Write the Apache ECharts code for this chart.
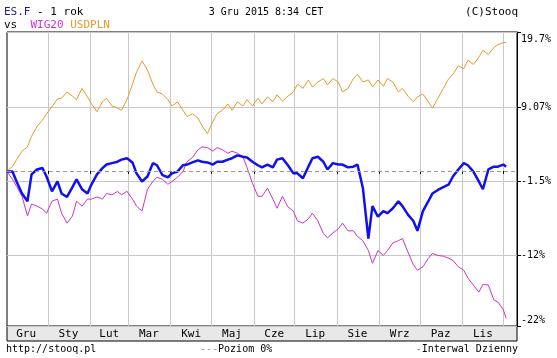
<!DOCTYPE html>
<html>
<head>
<meta charset="utf-8">
<script src="https://cdn.jsdelivr.net/npm/echarts@6/dist/echarts.min.js"></script>
<style>html,body{margin:0;padding:0;background:#fff;}#c{width:557px;height:358px;}</style>
</head>
<body>
<div id="c"></div>
<script>
const dates = ['2014-12-02','2014-12-06','2014-12-09','2014-12-13','2014-12-17','2014-12-20','2014-12-24','2014-12-28','2014-12-31',
'2015-01-04','2015-01-08','2015-01-11','2015-01-15','2015-01-19','2015-01-22','2015-01-26','2015-01-30',
'2015-02-02','2015-02-06','2015-02-10','2015-02-13','2015-02-17','2015-02-21','2015-02-24','2015-02-28',
'2015-03-04','2015-03-07','2015-03-11','2015-03-15','2015-03-19','2015-03-22','2015-03-26','2015-03-30',
'2015-04-02','2015-04-06','2015-04-10','2015-04-13','2015-04-17','2015-04-21','2015-04-24','2015-04-28',
'2015-05-02','2015-05-05','2015-05-09','2015-05-13','2015-05-16','2015-05-20','2015-05-24','2015-05-27','2015-05-31',
'2015-06-04','2015-06-07','2015-06-11','2015-06-15','2015-06-18','2015-06-22','2015-06-26','2015-06-30',
'2015-07-03','2015-07-07','2015-07-11','2015-07-14','2015-07-18','2015-07-22','2015-07-25','2015-07-29',
'2015-08-02','2015-08-05','2015-08-09','2015-08-13','2015-08-16','2015-08-20','2015-08-24','2015-08-27','2015-08-31',
'2015-09-04','2015-09-07','2015-09-11','2015-09-15','2015-09-18','2015-09-22','2015-09-26','2015-09-29',
'2015-10-03','2015-10-07','2015-10-10','2015-10-14','2015-10-18','2015-10-22','2015-10-25','2015-10-29',
'2015-11-02','2015-11-05','2015-11-09','2015-11-13','2015-11-16','2015-11-20','2015-11-24','2015-11-27',
'2015-12-01','2015-12-03'];

const usdpln = [0,0.6,1.6,2.8,3.4,4.9,6.3,7.2,8.1,
9.1,10.2,10.3,11.2,10.6,10.1,11.7,10.5,
9.5,8.4,9.8,10.3,9.2,8.9,8.6,10.1,
12.3,14.0,15.6,14.3,12.3,11.2,10.9,10.1,
9.2,9.8,8.6,7.7,8.1,7.5,6.4,5.3,
7.0,8.1,8.6,9.5,8.6,9.8,9.2,10.1,9.2,
10.3,9.5,10.5,9.8,10.8,9.9,10.6,11.2,
12.3,11.7,12.9,11.9,12.6,13.1,12.2,13.1,
12.6,11.2,11.7,13.1,13.7,12.6,12.9,11.9,12.9,
12.0,13.1,12.6,11.2,11.7,10.6,9.8,10.5,
10.9,9.8,8.9,10.3,11.7,13.1,13.7,14.9,
14.5,15.7,15.1,16.1,17.1,16.5,17.5,17.9,
18.2,18.2];

const wig20 = [-0.1,-1.2,-2.2,-3.6,-6.4,-4.7,-5.0,-5.4,-6.0,
-4.3,-4.0,-6.0,-7.4,-6.4,-4.3,-5.0,-4.0,
-4.0,-3.7,-4.0,-3.2,-3.4,-2.9,-3.4,-2.9,
-4.0,-5.0,-5.7,-2.6,-1.5,-0.9,-1.2,-1.9,
-1.5,-0.9,-0.1,1.3,1.9,3.0,3.4,3.3,
2.8,3.3,3.0,2.5,2.8,2.5,2.0,0.5,-1.75,
-3.6,-3.6,-2.45,-4.0,-5.3,-3.6,-5.1,-5.7,
-7.1,-7.4,-6.8,-6.0,-7.1,-8.9,-9.5,-8.8,
-8.2,-7.4,-8.5,-8.5,-9.3,-9.9,-11.3,-13.1,-11.3,
-12.0,-11.3,-10.2,-9.9,-9.6,-11.5,-13.3,-14.1,
-13.6,-12.4,-11.7,-12.0,-12.1,-12.4,-12.7,-13.6,
-14.1,-15.2,-16.2,-17.2,-16.1,-16.2,-18.3,-18.6,
-19.7,-20.9];

const esf = [-0.1,-0.1,-1.5,-3.2,-4.3,-0.5,0.2,0.4,-0.8,
-2.9,-1.5,-3.2,-3.7,-2.3,-1.2,-2.6,-3.2,
-1.9,-0.5,0.4,0.9,1.1,1.3,1.6,1.8,
1.2,-0.35,-1.5,-0.8,1.1,0.8,-0.6,-0.9,
-0.35,-0.1,0.8,0.9,1.2,1.5,1.3,1.2,
0.9,1.3,1.3,1.6,1.8,2.2,2.0,1.9,1.3,
0.8,0.5,0.9,0.5,1.6,1.8,0.8,-0.35,
-0.35,-1.05,0.6,1.8,2.0,1.3,0.2,1.1,
0.9,0.9,0.5,0.6,0.9,-2.45,-9.6,-5.0,-6.5,
-5.7,-6.0,-5.3,-4.3,-5.0,-6.2,-7.1,-8.5,
-5.7,-4.3,-3.2,-2.7,-2.3,-1.9,-0.8,0.2,
1.1,0.8,-0.1,-1.5,-2.6,0.2,0.6,0.6,
0.9,0.6];

const monthStarts = ['2015-01-01','2015-02-01','2015-03-01','2015-04-01','2015-05-01','2015-06-01','2015-07-01','2015-08-01','2015-09-01','2015-10-01','2015-11-01','2015-12-01'];
const monthLabelDates = ['2014-12-16','2015-01-16','2015-02-15','2015-03-16','2015-04-16','2015-05-16','2015-06-16','2015-07-16','2015-08-16','2015-09-16','2015-10-16','2015-11-16'];
const monthNames = ['Gru','Sty','Lut','Mar','Kwi','Maj','Cze','Lip','Sie','Wrz','Paz','Lis'];
const yTickValues = [19.7, 9.07, -1.5, -12, -22];
const yTickLabels = ['19.7%','9.07%','-1.5%','-12%','-22%'];

function ts(s){ const p = s.split('-').map(Number); return Date.UTC(p[0], p[1]-1, p[2]); }
const monthStartTs = monthStarts.map(ts);
const monthLabelTs = monthLabelDates.map(ts);

const FONT = '"DejaVu Sans Mono", "Liberation Mono", monospace';
const pairs = arr => dates.map((d, i) => [ts(d), arr[i]]);
function nearest(list, v){ let b = 0; for (let i = 1; i < list.length; i++) if (Math.abs(list[i]-v) < Math.abs(list[b]-v)) b = i; return b; }

const chart = echarts.init(document.getElementById('c'), null, {renderer: 'canvas'});
chart.setOption({
  animation: false,
  backgroundColor: '#fff',
  grid: {left: 7, right: 40, top: 32, bottom: 32, show: true, borderColor: '#000', borderWidth: 1, backgroundColor: '#fff'},
  xAxis: {
    type: 'value',
    min: ts('2014-12-02'), max: ts('2015-12-11'),
    axisLine: {show: false},
    axisTick: {show: true, customValues: monthStartTs, length: 3, lineStyle: {color: '#000'}},
    splitLine: {show: true, lineStyle: {color: '#c8c8c8', width: 1}},
    axisLabel: {
      customValues: monthLabelTs,
      margin: 3,
      fontFamily: FONT, fontSize: 11, color: '#000',
      formatter: v => monthNames[nearest(monthLabelTs, v)]
    }
  },
  yAxis: {
    type: 'value', position: 'right',
    min: -22, max: 19.7,
    axisLine: {show: true, lineStyle: {color: '#000'}},
    axisTick: {show: true, customValues: yTickValues, length: 4, lineStyle: {color: '#000'}},
    splitLine: {show: true, lineStyle: {color: '#c8c8c8', width: 1}},
    axisLabel: {
      customValues: yTickValues, margin: 4,
      fontFamily: FONT, fontSize: 10, color: '#000',
      formatter: function (v) {
        const i = nearest(yTickValues, v);
        if (i === 0) return '{t|' + yTickLabels[i] + '}';
        if (i === yTickValues.length - 1) return '{b|' + yTickLabels[i] + '}';
        return yTickLabels[i];
      },
      rich: {
        t: {fontFamily: FONT, fontSize: 10, color: '#000', padding: [15, 0, 0, 0]},
        b: {fontFamily: FONT, fontSize: 10, color: '#000', padding: [0, 0, 11, 0]}
      }
    }
  },
  series: [
    {name: 'USDPLN', type: 'line', data: pairs(usdpln), showSymbol: false, lineStyle: {color: '#e89a2c', width: 1}, itemStyle: {color: '#e89a2c'}, z: 2,
     markLine: {silent: true, symbol: 'none', label: {show: false}, lineStyle: {color: '#999', type: [4, 3], width: 1}, data: [{yAxis: 0}]}},
    {name: 'WIG20', type: 'line', data: pairs(wig20), showSymbol: false, lineStyle: {color: '#cc33cc', width: 1}, itemStyle: {color: '#cc33cc'}, z: 3},
    {name: 'ES.F', type: 'line', data: pairs(esf), showSymbol: false, lineStyle: {color: '#1010f0', width: 2.5}, itemStyle: {color: '#1010f0'}, z: 4}
  ],
  graphic: [
    {type: 'rect', z: -1, shape: {x: 7, y: 326, width: 510, height: 15}, style: {fill: '#e8e8e8', stroke: '#000', lineWidth: 1}},
    {type: 'text', x: 4, y: 12, style: {text: '{n|ES.F} - 1 rok', font: '11px ' + FONT, fill: '#000', verticalAlign: 'middle', rich: {n: {fill: '#1a1a99', font: '11px ' + FONT}}}},
    {type: 'text', x: 266, y: 12, style: {text: '3 Gru 2015 8:34 CET', font: '10px ' + FONT, fill: '#000', align: 'center', verticalAlign: 'middle'}},
    {type: 'text', x: 518, y: 12, style: {text: '(C)Stooq', font: '11px ' + FONT, fill: '#000', align: 'right', verticalAlign: 'middle'}},
    {type: 'text', x: 4, y: 25, style: {text: 'vs  {m|WIG20} {o|USDPLN}', font: '11px ' + FONT, fill: '#000', verticalAlign: 'middle', rich: {m: {fill: '#cc33cc', font: '11px ' + FONT}, o: {fill: '#e89a2c', font: '11px ' + FONT}}}},
    {type: 'text', x: 6, y: 349, style: {text: 'http://stooq.pl', font: '10px ' + FONT, fill: '#000', verticalAlign: 'middle'}},
    {type: 'text', x: 200, y: 349, style: {text: '{g|---}Poziom 0%', font: '10px ' + FONT, fill: '#000', verticalAlign: 'middle', rich: {g: {fill: '#999', font: '10px ' + FONT}}}},
    {type: 'text', x: 518, y: 349, style: {text: '{g|-}Interwal Dzienny', font: '10px ' + FONT, fill: '#000', align: 'right', verticalAlign: 'middle', rich: {g: {fill: '#777', font: '10px ' + FONT}}}}
  ]
});
</script>
</body>
</html>
